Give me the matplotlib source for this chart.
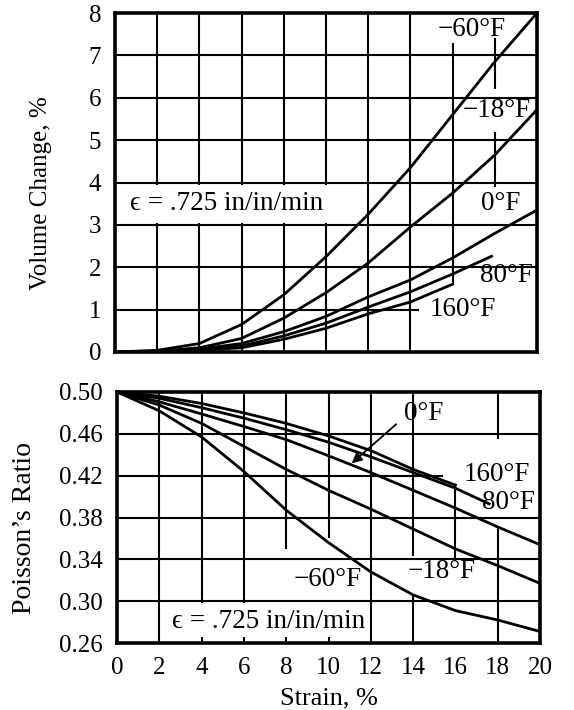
import matplotlib.pyplot as plt
import numpy as np

plt.rcParams['font.family'] = ['Liberation Serif', 'DejaVu Serif']
plt.rcParams['font.size'] = 19

# strain values (%) shared by most curves
strain = [0, 2, 4, 6, 8, 10, 12, 14, 16, 18, 20]

# volume change (%)
vol_m60 = [0, 0.04, 0.2, 0.65, 1.35, 2.25, 3.25, 4.35, 5.6, 6.85, 8.0]
vol_m18 = [0, 0.02, 0.1, 0.32, 0.8, 1.4, 2.1, 2.95, 3.75, 4.65, 5.72]
vol_0 = [0, 0.01, 0.07, 0.2, 0.48, 0.84, 1.3, 1.7, 2.22, 2.8, 3.35]
strain_80 = [0, 2, 4, 6, 8, 10, 12, 14, 16, 17.85]
vol_80 = [0, 0.01, 0.05, 0.14, 0.38, 0.68, 1.06, 1.42, 1.84, 2.26]
strain_160 = [0, 2, 4, 6, 8, 10, 12, 14, 16]
vol_160 = [0, 0.01, 0.04, 0.1, 0.3, 0.56, 0.9, 1.18, 1.6]

# Poisson's ratio
nu_m60 = [0.500, 0.482, 0.457, 0.424, 0.387, 0.356, 0.328, 0.306, 0.291, 0.282, 0.271]
nu_m18 = [0.500, 0.4875, 0.470, 0.448, 0.426, 0.406, 0.388, 0.369, 0.350, 0.334, 0.317]
nu_0 = [0.500, 0.4906, 0.479, 0.467, 0.4545, 0.439, 0.423, 0.406, 0.389, 0.371, 0.354]
strain_nu80 = [0, 2, 4, 6, 8, 10, 12, 14, 16, 17.6]
nu_80 = [0.500, 0.494, 0.485, 0.475, 0.464, 0.452, 0.438, 0.423, 0.408, 0.393]
strain_nu160 = [0, 2, 4, 6, 8, 10, 12, 14, 16]
nu_160 = [0.500, 0.496, 0.489, 0.480, 0.470, 0.458, 0.444, 0.426, 0.411]

# grid lines of the original are broken where the labels sit
top_vgrid = {2: [(0, 3.05), (3.95, 8)], 4: [(0, 3.05), (3.95, 8)],
             6: [(0, 3.05), (3.95, 8)], 8: [(0, 3.05), (3.95, 8)],
             10: [(0, 3.05), (3.95, 8)], 12: [(0, 8)], 14: [(0, 8)],
             16: [(1.6, 7.3)], 18: [(3.9, 5.2), (6.2, 7.4)]}
top_hgrid = {1: (0, 14.4), 2: (0, 20), 3: (0, 20), 4: (0, 20),
             5: (0, 20), 6: (0, 20), 7: (0, 20)}
bot_vgrid = {2: [(0.26, 0.50)], 4: [(0.26, 0.266), (0.298, 0.50)],
             6: [(0.26, 0.266), (0.298, 0.50)], 8: [(0.26, 0.266), (0.35, 0.50)],
             10: [(0.26, 0.266), (0.36, 0.50)], 12: [(0.26, 0.50)],
             14: [(0.26, 0.305), (0.343, 0.50)], 16: [(0.338, 0.411)],
             18: [(0.26, 0.372), (0.455, 0.50)]}
bot_hgrid = {0.30: (0, 20), 0.34: (0, 20), 0.38: (0, 20),
             0.42: (0, 15.4), 0.46: (0, 20)}

fig = plt.figure(figsize=(5.74, 7.10), dpi=100)
ax1 = fig.add_axes([115/574, 1-352/710, 422/574, 339/710])
ax2 = fig.add_axes([117/574, 1-643/710, 423/574, 251/710])

lw = 2.0
glw = 1.5

# ---- top: volume change
for y in [vol_m60, vol_m18, vol_0]:
    ax1.plot(strain, y, color='black', lw=lw, zorder=3)
ax1.plot(strain_80, vol_80, color='black', lw=lw, zorder=3)
ax1.plot(strain_160, vol_160, color='black', lw=lw, zorder=3)

for x, segs in top_vgrid.items():
    for y0, y1 in segs:
        ax1.vlines(x, y0, y1, color='black', lw=glw, zorder=1)
for y, (x0, x1) in top_hgrid.items():
    ax1.hlines(y, x0, x1, color='black', lw=glw, zorder=1)

ax1.set_xlim(0, 20)
ax1.set_ylim(0, 8)
ax1.set_xticks(np.arange(0, 21, 2))
ax1.set_yticks(np.arange(0, 9, 1))
ax1.set_xticklabels([])
ax1.set_ylabel('Volume Change, %', fontsize=18)
ax1.yaxis.set_label_coords(-0.15, 0.47)

lab = dict(ha='center', va='center', fontsize=19.5, zorder=2.5)
ax1.text(16.9, 7.6, '−60°F', **lab)
ax1.text(18.1, 5.7, '−18°F', **lab)
ax1.text(18.3, 3.5, '0°F', **lab)
ax1.text(18.55, 1.8, '80°F', **lab)
ax1.text(16.5, 1.0, '160°F', **lab)
ax1.text(0.7, 3.5, 'ϵ = .725 in/in/min', ha='left', va='center', fontsize=19.5)

# ---- bottom: Poisson's ratio
for y in [nu_m60, nu_m18, nu_0]:
    ax2.plot(strain, y, color='black', lw=lw, zorder=3)
ax2.plot(strain_nu80, nu_80, color='black', lw=lw, zorder=3)
ax2.plot(strain_nu160, nu_160, color='black', lw=lw, zorder=3)

for x, segs in bot_vgrid.items():
    for y0, y1 in segs:
        ax2.vlines(x, y0, y1, color='black', lw=glw, zorder=1)
for y, (x0, x1) in bot_hgrid.items():
    ax2.hlines(y, x0, x1, color='black', lw=glw, zorder=1)

ax2.set_xlim(0, 20)
ax2.set_ylim(0.26, 0.50)
ax2.set_xticks(np.arange(0, 21, 2))
ax2.set_yticks([0.26, 0.30, 0.34, 0.38, 0.42, 0.46, 0.50])
ax2.set_yticklabels(['0.26', '0.30', '0.34', '0.38', '0.42', '0.46', '0.50'])
ax2.set_xlabel('Strain, %', fontsize=19, labelpad=6)
ax2.set_ylabel('Poisson’s Ratio', fontsize=20)
ax2.yaxis.set_label_coords(-0.19, 0.46)

ax2.text(14.5, 0.479, '0°F', **lab)
ax2.annotate('', xy=(11.0, 0.430), xytext=(13.3, 0.471),
             arrowprops=dict(arrowstyle='-|>', color='black', lw=1.3, mutation_scale=15),
             zorder=3)
ax2.text(17.95, 0.421, '160°F', **lab)
ax2.text(18.5, 0.394, '80°F', **lab)
ax2.text(15.35, 0.328, '−18°F', **lab)
ax2.text(9.95, 0.321, '−60°F', **lab)
ax2.text(2.6, 0.281, 'ϵ = .725 in/in/min', ha='left', va='center', fontsize=19.5)

for ax in (ax1, ax2):
    ax.tick_params(length=0, pad=10, labelsize=18)
    for s in ax.spines.values():
        s.set_linewidth(2.6)
        s.set_zorder(4)

fig.savefig('out.png', dpi=100)
